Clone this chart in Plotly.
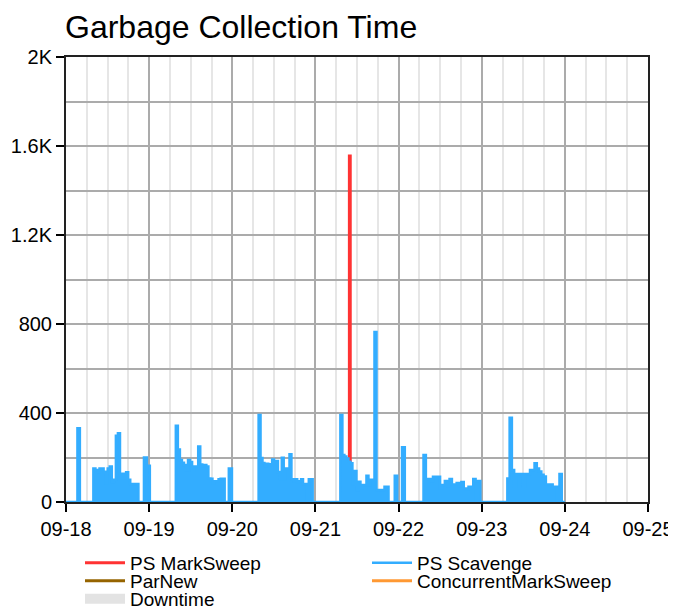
import plotly.graph_objects as go
from datetime import datetime, timedelta

# ---------------- data ----------------
BASE = datetime(2023, 9, 18)
RANGE_END_H = 168          # 09-25 00:00
DATA_END_H = 144           # series end at 09-24 00:00

# PS Scavenge: active bursts (hours from 09-18 00:00) and sampled values (ms)
scav_start_h = [3.3, 7.9, 22.5, 31.7, 47.0, 55.6, 79.2, 94.9, 97.0, 103.2, 127.4]
scav_end_h = [4.0, 20.9, 24.2, 45.8, 47.9, 71.2, 93.1, 95.6, 97.8, 119.6, 143.1]
scav_vals = [
    [331],
    [151, 144, 135, 151, 151, 136, 84, 151, 160, 90, 100, 298, 309, 106, 127, 108,
     134, 100, 81, 81, 81, 81],
    [200, 163],
    [343, 236, 189, 176, 166, 144, 189, 180, 141, 159, 159, 249, 169, 162, 166, 160,
     106, 104, 84, 93, 93, 102, 104, 104],
    [151],
    [391, 198, 175, 162, 172, 170, 158, 191, 170, 184, 135, 102, 199, 102, 151, 151,
     215, 102, 93, 102, 88, 93, 102, 81, 81, 0, 102, 102],
    [391, 211, 205, 196, 181, 174, 79, 139, 54, 91, 61, 76, 76, 118, 76, 100, 100,
     764, 54, 54, 54, 54, 69, 69],
    [118],
    [246],
    [211, 91, 103, 94, 114, 114, 114, 61, 76, 94, 72, 103, 79, 79, 85, 72, 90, 61,
     57, 69, 0, 103, 94, 94],
    [106, 379, 144, 69, 126, 126, 126, 69, 126, 126, 144, 144, 174, 151, 137, 122,
     115, 79, 79, 79, 69, 69, 0, 126],
]

# PS MarkSweep: zero-valued runs plus one full collection
msweep_start_h = [7.9, 31.7, 55.6, 79.2, 103.2, 127.4]
msweep_end_h = [20.9, 45.8, 71.2, 93.1, 119.6, 143.1]
msweep_spike_h = [81.8]
msweep_spike_val = [1555]

y_tick_vals = [0, 400, 800, 1200, 1600, 2000]
y_tick_text = ["0", "400", "800", "1.2K", "1.6K", "2K"]

C_MS, C_SCAV, C_PARNEW, C_CMS, C_DOWN = "#ff3333", "#33adff", "#966400", "#ff9933", "#e3e3e3"
FONT = "Liberation Sans, Arial, sans-serif"


def t(h):
    return BASE + timedelta(hours=h)


# build PS Scavenge step series
sx, sy = [t(0)], [0]
for s, e, vals in zip(scav_start_h, scav_end_h, scav_vals):
    step = (e - s) / len(vals)
    for i, v in enumerate(vals):
        sx.append(t(s + i * step))
        sy.append(v)
    sx.append(t(e))
    sy.append(0)
sx.append(t(DATA_END_H))
sy.append(0)

# build PS MarkSweep series
mx, my = [], []
for s, e in zip(msweep_start_h, msweep_end_h):
    pts = [(s, 0)]
    for sh, sv in zip(msweep_spike_h, msweep_spike_val):
        if s <= sh <= e:
            pts += [(sh, 0), (sh, sv), (sh + 0.25, sv), (sh + 0.25, 0)]
    pts.append((e, 0))
    for h, v in pts:
        mx.append(t(h))
        my.append(v)
    mx.append(None)
    my.append(None)

fig = go.Figure()
fig.add_trace(go.Scatter(x=mx, y=my, mode="lines", name="PS MarkSweep",
                         line=dict(color=C_MS, width=3), legend="legend"))
# PS Scavenge: filled area + outline
fig.add_trace(go.Scatter(x=sx, y=sy, mode="lines", line_shape="hv", showlegend=False,
                         line=dict(color=C_SCAV, width=0), fill="tozeroy",
                         fillcolor=C_SCAV, hoverinfo="skip", legendgroup="scav"))
fig.add_trace(go.Scatter(x=sx, y=sy, mode="lines", name="PS Scavenge", line_shape="hv",
                         line=dict(color=C_SCAV, width=2.5), cliponaxis=False,
                         legend="legend2", legendgroup="scav"))
fig.add_trace(go.Scatter(x=[None], y=[None], mode="lines", name="ParNew",
                         line=dict(color=C_PARNEW, width=3), legend="legend3"))
fig.add_trace(go.Scatter(x=[None], y=[None], mode="lines", name="ConcurrentMarkSweep",
                         line=dict(color=C_CMS, width=3), legend="legend4"))
fig.add_trace(go.Scatter(x=[None], y=[None], mode="lines", name="Downtime",
                         line=dict(width=16, color=C_DOWN), legend="legend5"))

# page body adds an 8px margin around the figure; compensate
OFF = 8
W, H = 676 - OFF, 610 - OFF


def leg(px, py):
    return dict(xref="container", yref="container", x=(px - OFF) / W,
                y=1 - (py - OFF) / H, xanchor="left", yanchor="middle",
                bgcolor="rgba(0,0,0,0)", borderwidth=0,
                font=dict(family=FONT, size=19, color="#000"), itemwidth=40)


fig.update_layout(
    width=W, height=H,
    margin=dict(l=66 - OFF, r=676 - 648, t=57 - OFF, b=610 - 502, autoexpand=False),
    paper_bgcolor="white", plot_bgcolor="white",
    font=dict(family=FONT, color="#000"),
    title=dict(text="Garbage Collection Time", x=(65 - OFF) / W, xanchor="left",
               xref="container", y=1 - (27 - OFF) / H, yanchor="middle", yref="container",
               font=dict(family=FONT, size=32, color="#000")),
    showlegend=True,
    legend=leg(80, 563),
    legend2=leg(367, 563),
    legend3=leg(80, 581),
    legend4=leg(367, 581),
    legend5=leg(80, 599),
    xaxis=dict(
        type="date", range=[t(0), t(RANGE_END_H)], dtick=86400000, tick0=t(0),
        tickformat="%m-%d", showgrid=True, gridcolor="#ababab", gridwidth=1.5,
        ticks="outside", ticklen=8, tickwidth=2, tickcolor="#000",
        tickfont=dict(family=FONT, size=20, color="#000"),
        showline=True, linecolor="#222", linewidth=2, mirror=True,
        zeroline=False, layer="below traces",
        minor=dict(dtick=6 * 3600000, showgrid=True, gridcolor="#e6e6e6", gridwidth=1.5,
                   ticks=""),
    ),
    yaxis=dict(
        range=[0, 2000], tickmode="array", tickvals=y_tick_vals, ticktext=y_tick_text,
        showgrid=True, gridcolor="#ababab", gridwidth=1.5,
        ticks="outside", ticklen=8, tickwidth=2, tickcolor="#000",
        tickfont=dict(family=FONT, size=20, color="#000"),
        showline=True, linecolor="#222", linewidth=2, mirror=True,
        zeroline=False, layer="below traces",
        minor=dict(dtick=200, showgrid=True, gridcolor="#ababab", gridwidth=1.5, ticks=""),
    ),
)

fig.write_html("out.html")
